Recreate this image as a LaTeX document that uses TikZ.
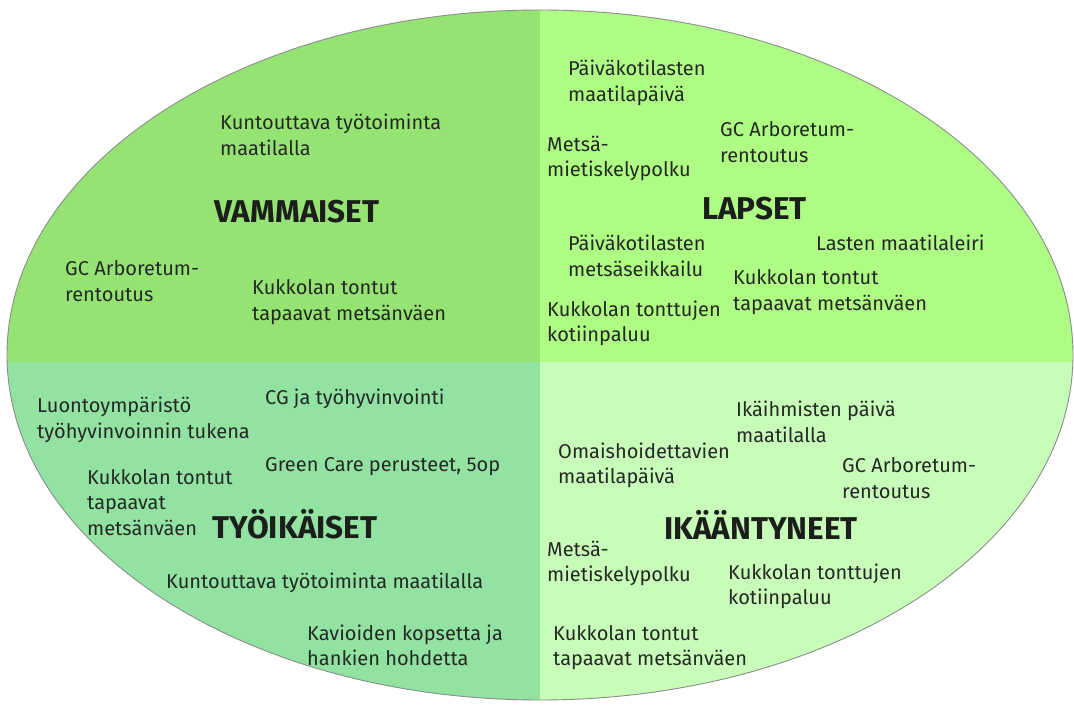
\documentclass[tikz,border=0pt]{standalone}
\usepackage{fontspec}
\setmainfont{Fira Sans}
\definecolor{qTL}{RGB}{149,228,115}
\definecolor{qTR}{RGB}{174,252,132}
\definecolor{qBL}{RGB}{146,226,162}
\definecolor{qBR}{RGB}{200,252,185}
\definecolor{txt}{RGB}{38,40,38}
\definecolor{head}{RGB}{28,30,28}
\begin{document}
\begin{tikzpicture}[x=1pt,y=-1pt,
  % items are placed by the baseline of their last line
  item/.style={anchor=base west, inner sep=0pt, align=left, text=txt,
    font=\fontsize{20}{25.5}\selectfont},
  group/.style={anchor=base, inner sep=0pt, text=head,
    font=\bfseries\fontsize{31.5}{34}\selectfont},
  rim/.style={draw=black!45, line width=0.9pt}]
\useasboundingbox (0,0) rectangle (1074,708);

% four coloured quarters inside the oval
\begin{scope}
  \clip (540,355) ellipse [x radius=533, y radius=345];
  \fill[qTL] (0,0) rectangle (540,362);
  \fill[qTR] (540,0) rectangle (1074,362);
  \fill[qBL] (0,362) rectangle (540,708);
  \fill[qBR] (540,362) rectangle (1074,708);
\end{scope}
\draw[rim] (540,355) ellipse [x radius=533, y radius=345];

% group headings
\node[group] (vammaiset) at (297,222.5) {VAMMAISET};
\node[group] (lapset) at (754.5,220) {LAPSET};
\node[group] (tyoikaiset) at (295,538) {TYÖIKÄISET};
\node[group] (ikaantyneet) at (761,539) {IKÄÄNTYNEET};

% VAMMAISET
\node[item] (v1) at (220,155.5) {Kuntouttava työtoiminta\\maatilalla};
\node[item] (v2) at (65,301.5) {GC Arboretum-\\rentoutus};
\node[item] (v3) at (252,320.5) {Kukkolan tontut\\tapaavat metsänväen};

% LAPSET
\node[item] (l1) at (568,101.5) {Päiväkotilasten\\maatilapäivä};
\node[item] (l2) at (547,177) {Metsä-\\mietiskelypolku};
\node[item] (l3) at (720,162.5) {GC Arboretum-\\rentoutus};
\node[item] (l4) at (568,276.5) {Päiväkotilasten\\metsäseikkailu};
\node[item] (l5) at (816,251) {Lasten maatilaleiri};
\node[item] (l6) at (733,310.5) {Kukkolan tontut\\tapaavat metsänväen};
\node[item] (l7) at (547,342) {Kukkolan tonttujen\\kotiinpaluu};

% TYÖIKÄISET
\node[item] (t1) at (37,438.5) {Luontoympäristö\\työhyvinvoinnin tukena};
\node[item] (t2) at (265,405) {CG ja työhyvinvointi};
\node[item] (t3) at (265,471.5) {Green Care perusteet, 5op};
\node[item] (t4) at (87,535) {Kukkolan tontut\\tapaavat\\metsänväen};
\node[item] (t5) at (166,588) {Kuntouttava työtoiminta maatilalla};
\node[item] (t6) at (307,665.5) {Kavioiden kopsetta ja\\hankien hohdetta};

% IKÄÄNTYNEET
\node[item] (i1) at (736,442.5) {Ikäihmisten päivä\\maatilalla};
\node[item] (i2) at (558,483.5) {Omaishoidettavien\\maatilapäivä};
\node[item] (i3) at (842,498) {GC Arboretum-\\rentoutus};
\node[item] (i4) at (547,581.5) {Metsä-\\mietiskelypolku};
\node[item] (i5) at (728,604.5) {Kukkolan tonttujen\\kotiinpaluu};
\node[item] (i6) at (553,665.5) {Kukkolan tontut\\tapaavat metsänväen};
\end{tikzpicture}
\end{document}
